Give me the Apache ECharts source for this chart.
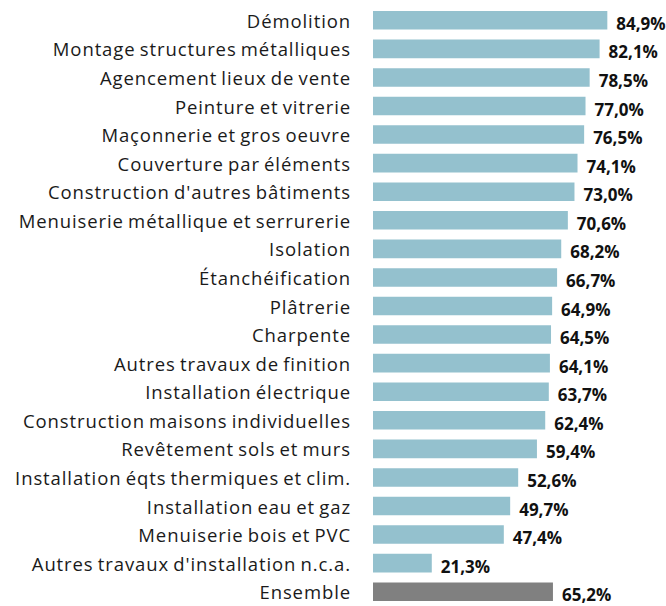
<!DOCTYPE html>
<html><head><meta charset="utf-8">
<script src="https://cdn.jsdelivr.net/npm/echarts@6/dist/echarts.min.js"></script>
<style>html,body{margin:0;padding:0;background:#fff}#c{width:666px;height:606px}
#c svg text{letter-spacing:0.9px;word-spacing:-1.5px}
#c svg text[style*="bold"],#c svg text[font-weight="bold"]{letter-spacing:0;word-spacing:0}
</style>
</head><body><div id="c"></div>
<script>
const categories = ["Démolition","Montage structures métalliques","Agencement lieux de vente","Peinture et vitrerie","Maçonnerie et gros oeuvre","Couverture par éléments","Construction d'autres bâtiments","Menuiserie métallique et serrurerie","Isolation","Étanchéification","Plâtrerie","Charpente","Autres travaux de finition","Installation électrique","Construction maisons individuelles","Revêtement sols et murs","Installation éqts thermiques et clim.","Installation eau et gaz","Menuiserie bois et PVC","Autres travaux d'installation n.c.a.","Ensemble"];
const values = [84.9,82.1,78.5,77.0,76.5,74.1,73.0,70.6,68.2,66.7,64.9,64.5,64.1,63.7,62.4,59.4,52.6,49.7,47.4,21.3,65.2];
const highlight = "Ensemble";

const chart = echarts.init(document.getElementById('c'), null, {renderer:'svg'});
chart.setOption({
  animation:false,
  grid:{left:373, right:17, top:6, bottom:-3, containLabel:false},
  xAxis:{type:'value', min:0, max:100, show:false},
  yAxis:{type:'category', inverse:true, data:categories,
    axisLine:{show:false}, axisTick:{show:false},
    axisLabel:{margin:22, color:'#1a1a1a', fontFamily:'Open Sans', fontSize:18.5}},
  series:[{type:'bar', barCategoryGap:'35%',
    data: values.map((v,i)=>({value:v, itemStyle:{color: categories[i]===highlight ? '#808080' : '#94c1ce'}})),
    label:{show:true, position:'right', distance:9, offset:[0,3], color:'#111', fontFamily:'Open Sans', fontWeight:'bold', fontSize:17,
      formatter:p=>p.value.toFixed(1).replace('.',',')+'%'}
  }]
});
</script></body></html>
